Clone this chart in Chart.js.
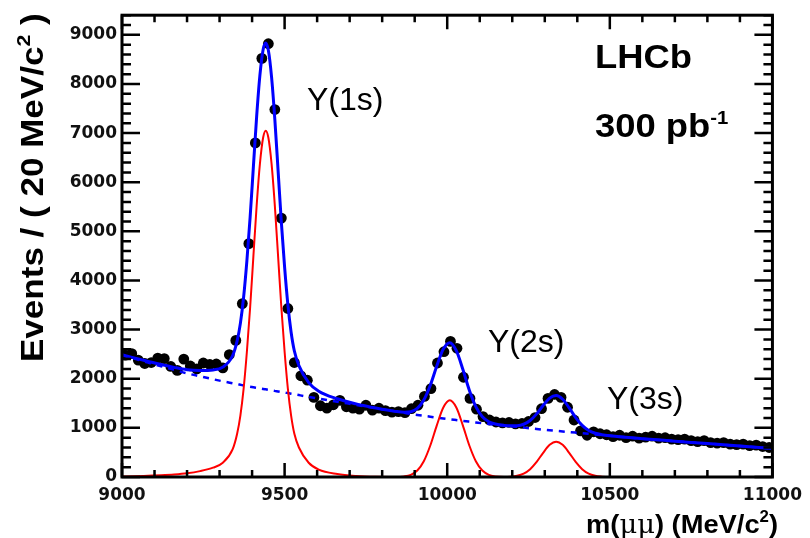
<!DOCTYPE html>
<html>
<head>
<meta charset="utf-8">
<script src="https://cdn.jsdelivr.net/npm/chart.js@4.4.0/dist/chart.umd.min.js"></script>
<style>
  html, body { margin: 0; padding: 0; background: #fff; }
  canvas { display: block; }
</style>
</head>
<body>
<canvas id="upsilon-chart" width="810" height="538"></canvas>
<script>
// dimuon mass histogram, 20 MeV bins (bin centres)
const binMass = [
  9010, 9030, 9050, 9070, 9090, 9110, 9130, 9150, 9170, 9190,
  9210, 9230, 9250, 9270, 9290, 9310, 9330, 9350, 9370, 9390,
  9410, 9430, 9450, 9470, 9490, 9510, 9530, 9550, 9570, 9590,
  9610, 9630, 9650, 9670, 9690, 9710, 9730, 9750, 9770, 9790,
  9810, 9830, 9850, 9870, 9890, 9910, 9930, 9950, 9970, 9990,
  10010, 10030, 10050, 10070, 10090, 10110, 10130, 10150, 10170, 10190,
  10210, 10230, 10250, 10270, 10290, 10310, 10330, 10350, 10370, 10390,
  10410, 10430, 10450, 10470, 10490, 10510, 10530, 10550, 10570, 10590,
  10610, 10630, 10650, 10670, 10690, 10710, 10730, 10750, 10770, 10790,
  10810, 10830, 10850, 10870, 10890, 10910, 10930, 10950, 10970, 10990
];
const binEvents = [
  2480, 2510, 2380, 2310, 2330, 2420, 2410, 2250, 2170, 2400,
  2260, 2200, 2320, 2290, 2300, 2220, 2490, 2780, 3530, 4750,
  6800, 8520, 8820, 7480, 5270, 3430, 2330, 2060, 1970, 1620,
  1450, 1400, 1470, 1560, 1430, 1400, 1380, 1460, 1360, 1400,
  1350, 1320, 1330, 1310, 1390, 1460, 1640, 1800, 2320, 2550,
  2760, 2620, 2030, 1600, 1380, 1230, 1160, 1120, 1100, 1110,
  1080, 1090, 1130, 1210, 1390, 1600, 1680, 1620, 1420, 1160,
  940, 850, 920, 880, 860, 820, 850, 800, 830, 790,
  810, 830, 790, 800, 770, 760, 770, 740, 720, 740,
  700, 690, 700, 670, 660, 670, 640, 650, 620, 600
];

// fit curves
const curveMass = [
  9000, 9040, 9080, 9120, 9160, 9200, 9240, 9280, 9310, 9340,
  9354, 9364, 9374, 9384, 9394, 9404, 9414, 9424, 9434, 9442,
  9450, 9460, 9470, 9480, 9490, 9500, 9510, 9520, 9530, 9544,
  9574, 9605, 9662, 9720, 9780, 9840, 9868, 9888, 9908, 9928,
  9948, 9968, 9988, 10008, 10028, 10048, 10068, 10088, 10108, 10128,
  10148, 10175, 10195, 10215, 10235, 10255, 10275, 10295, 10315, 10335,
  10355, 10375, 10395, 10415, 10435, 10455, 10475, 10500, 10600, 10700,
  10800, 10900, 11000
];
const fitTotal = [
  2490, 2419, 2353, 2289, 2232, 2185, 2170, 2180, 2237, 2468,
  2770, 3127, 3664, 4401, 5288, 6316, 7335, 8174, 8703, 8834,
  8685, 8134, 7273, 6232, 5181, 4270, 3508, 2946, 2564, 2267,
  1921, 1745, 1592, 1488, 1405, 1336, 1317, 1328, 1395, 1566,
  1868, 2260, 2604, 2734, 2571, 2193, 1767, 1431, 1226, 1125,
  1078, 1050, 1041, 1044, 1074, 1151, 1285, 1457, 1606, 1659,
  1582, 1408, 1210, 1050, 947, 891, 862, 840, 780, 730,
  680, 630, 580
];
const fitBackground = [
  2480, 2404, 2328, 2254, 2182, 2110, 2050, 1990, 1947, 1908,
  1890, 1877, 1864, 1851, 1838, 1826, 1815, 1804, 1793, 1784,
  1775, 1764, 1753, 1742, 1731, 1720, 1708, 1696, 1684, 1667,
  1631, 1595, 1532, 1468, 1402, 1336, 1305, 1283, 1263, 1245,
  1227, 1209, 1191, 1174, 1158, 1142, 1126, 1110, 1094, 1080,
  1066, 1048, 1034, 1020, 1006, 992, 978, 964, 951, 939,
  927, 915, 903, 891, 879, 867, 855, 840, 780, 730,
  680, 630, 580
];
const fitSignal = [
  10, 15, 25, 35, 50, 75, 120, 190, 290, 560,
  880, 1250, 1800, 2550, 3450, 4490, 5520, 6370, 6910, 7050,
  6910, 6370, 5520, 4490, 3450, 2550, 1800, 1250, 880, 600,
  290, 150, 60, 20, 3, 0, 12, 45, 132, 321,
  641, 1051, 1413, 1560, 1413, 1051, 641, 321, 132, 45,
  12, 2, 7, 24, 68, 159, 307, 493, 655, 720,
  655, 493, 307, 159, 68, 24, 7, 0, 0, 0,
  0, 0, 0
];

const xTickLabels = [9000, 9500, 10000, 10500, 11000];
const yTickLabels = [0, 1000, 2000, 3000, 4000, 5000, 6000, 7000, 8000, 9000];

const peakLabels = ['Y(1s)', 'Y(2s)', 'Y(3s)'];

const xy = (xs, ys) => xs.map((x, i) => ({x: x, y: ys[i]}));

const tickFont = {family: 'DejaVu Sans', weight: 'bold', size: 17};

// helper: draw a run of text pieces (for superscripts), optionally stretched/rotated
function drawParts(ctx, parts, x, y, opt) {
  opt = opt || {};
  ctx.save();
  ctx.translate(x, y);
  if (opt.rotate) ctx.rotate(opt.rotate);
  ctx.scale(opt.sx || 1, 1);
  ctx.textAlign = 'left';
  ctx.textBaseline = 'alphabetic';
  let total = 0;
  parts.forEach(p => { ctx.font = p[1]; total += ctx.measureText(p[0]).width; });
  let cx = opt.align === 'right' ? -total : 0;
  parts.forEach(p => {
    ctx.font = p[1];
    ctx.fillText(p[0], cx, p[2] || 0);
    cx += ctx.measureText(p[0]).width;
  });
  ctx.restore();
}

const rootFrame = {
  id: 'rootFrame',
  afterDatasetsDraw(chart) {
    const ctx = chart.ctx;
    const a = chart.chartArea;
    const xs = chart.scales.x, ys = chart.scales.y;
    ctx.save();
    ctx.strokeStyle = '#000';
    ctx.lineWidth = 2.5;
    ctx.beginPath();
    for (let m = 9000; m <= 11000; m += 100) {
      const px = xs.getPixelForValue(m);
      const len = m % 500 === 0 ? 14 : 7;
      ctx.moveTo(px, a.bottom); ctx.lineTo(px, a.bottom - len);
      ctx.moveTo(px, a.top); ctx.lineTo(px, a.top + len);
    }
    for (let v = 0; v <= 9400; v += 200) {
      const py = ys.getPixelForValue(v);
      const len = v % 1000 === 0 ? 18 : 9;
      ctx.moveTo(a.left, py); ctx.lineTo(a.left + len, py);
      ctx.moveTo(a.right, py); ctx.lineTo(a.right - len, py);
    }
    ctx.stroke();
    ctx.lineWidth = 3;
    ctx.strokeRect(a.left, a.top, a.right - a.left, a.bottom - a.top);

    ctx.fillStyle = '#000';
    const reg = '32px "Liberation Sans"';
    drawParts(ctx, [[peakLabels[0], reg]], 307, 110);
    drawParts(ctx, [[peakLabels[1], reg]], 488, 352);
    drawParts(ctx, [[peakLabels[2], reg]], 607, 409);

    const big = 'bold 34px "Liberation Sans"';
    drawParts(ctx, [['LHCb', big]], 595, 68, {sx: 1.07});
    drawParts(ctx, [['300 pb', big], ['-1', 'bold 19px "Liberation Sans"', -13]], 595, 137, {sx: 1.07});

    // axis titles
    const tf = 'bold 31px "Liberation Sans"';
    drawParts(ctx, [['Events / ( 20 MeV/c', tf], ['2', 'bold 19px "Liberation Sans"', -13], [' )', tf]],
      43, 362, {rotate: -Math.PI / 2, sx: 1.13});
    const xf = 'bold 26px "Liberation Sans"';
    drawParts(ctx, [['m(', xf], ['\u03bc\u03bc', '26px "DejaVu Serif"'], [') (MeV/c', xf],
      ['2', 'bold 16px "Liberation Sans"', -11], [')', xf]], 778, 533, {align: 'right', sx: 1.05});
    ctx.restore();
  }
};

const massData = {
  datasets: [
    {
      label: 'fit',
      data: xy(curveMass, fitTotal),
      showLine: true,
      borderColor: '#0000ff',
      borderWidth: 3,
      pointRadius: 0,
      cubicInterpolationMode: 'monotone',
      order: 1
    },
    {
      label: 'signal',
      data: xy(curveMass, fitSignal),
      showLine: true,
      borderColor: '#ff0000',
      borderWidth: 2,
      pointRadius: 0,
      cubicInterpolationMode: 'monotone',
      order: 2
    },
    {
      label: 'background',
      data: xy(curveMass, fitBackground),
      showLine: true,
      borderColor: '#0000ff',
      borderWidth: 2.5,
      borderDash: [6, 6],
      pointRadius: 0,
      cubicInterpolationMode: 'monotone',
      order: 3
    },
    {
      label: 'data',
      data: xy(binMass, binEvents),
      showLine: false,
      pointRadius: 5.4,
      pointBackgroundColor: '#000',
      pointBorderWidth: 0,
      order: 4
    }
  ]
};

const massConfig = {
  type: 'scatter',
  data: massData,
  options: {
    responsive: false,
    animation: false,
    devicePixelRatio: 1,
    layout: { padding: { top: 13, right: 31, left: 0, bottom: 0 } },
    plugins: {
      legend: { display: false },
      tooltip: { enabled: false }
    },
    scales: {
      x: {
        type: 'linear',
        min: 9000,
        max: 11000,
        grid: { display: false, drawTicks: false },
        border: { display: false },
        afterBuildTicks: s => { s.ticks = xTickLabels.map(v => ({value: v})); },
        afterFit: s => { s.height = 61; },
        ticks: { font: tickFont, color: '#111', padding: 8, maxRotation: 0, autoSkip: false, callback: v => String(v) }
      },
      y: {
        type: 'linear',
        min: 0,
        max: 9400,
        grid: { display: false, drawTicks: false },
        border: { display: false },
        afterBuildTicks: s => { s.ticks = yTickLabels.map(v => ({value: v})); },
        afterFit: s => { s.width = 122; },
        ticks: { font: tickFont, color: '#111', padding: 5, autoSkip: false, callback: v => String(v) }
      }
    }
  },
  plugins: [rootFrame]
};

const massChart = new Chart(document.getElementById('upsilon-chart'), massConfig);
</script>
</body>
</html>
